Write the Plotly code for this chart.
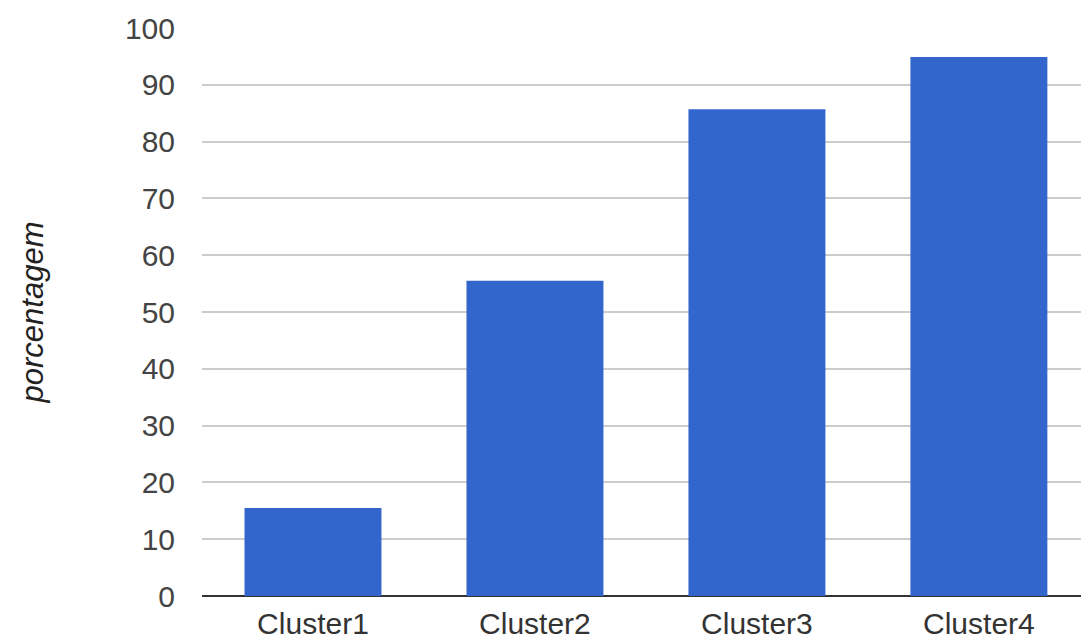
import plotly.graph_objects as go

categories = ["Cluster1", "Cluster2", "Cluster3", "Cluster4"]
values = [15.5, 55.5, 85.7, 94.9]
y_ticks = [0, 10, 20, 30, 40, 50, 60, 70, 80, 90, 100]

fig = go.Figure(
    go.Bar(
        x=categories,
        y=values,
        width=0.617,
        marker=dict(color="#3366cc", line=dict(width=0)),
    )
)

fig.update_layout(
    width=1081,
    height=641,
    margin=dict(l=202, r=0, t=28, b=45, autoexpand=False),
    paper_bgcolor="white",
    plot_bgcolor="white",
    showlegend=False,
    font=dict(family="Liberation Sans, Arial, sans-serif", size=30, color="#444444"),
)

fig.update_xaxes(
    range=[-0.5, 3.46],
    showgrid=False,
    ticks="",
    showline=False,
    automargin=False,
    ticklabelstandoff=7,
    tickfont=dict(size=30, color="#333333"),
)

fig.update_yaxes(
    range=[0, 100],
    tickvals=y_ticks,
    showgrid=True,
    gridcolor="#cccccc",
    gridwidth=2,
    zeroline=True,
    zerolinecolor="#333333",
    zerolinewidth=2,
    showline=False,
    automargin=False,
    ticks="",
    ticklabelstandoff=26,
    tickfont=dict(size=30, color="#444444"),
    title=dict(
        text="porcentagem",
        font=dict(size=31, color="#222222", style="italic"),
        standoff=72,
    ),
)

fig.write_html("out.html")
